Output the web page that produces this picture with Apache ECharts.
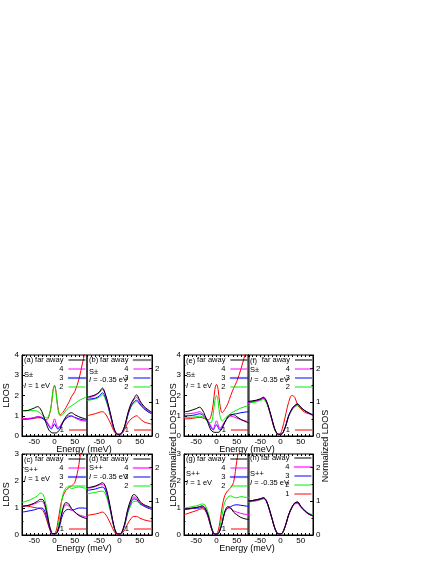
<!DOCTYPE html>
<html>
<head>
<meta charset="utf-8">
<script src="https://cdn.jsdelivr.net/npm/echarts@6/dist/echarts.min.js"></script>
<style>
  html, body { margin: 0; padding: 0; background: #fff; }
  #chart { width: 436px; height: 564px; }
</style>
</head>
<body>
<div id="chart"></div>
<script>
// energy grid (meV), non-uniform so the sharp features near 0 are kept
const energy = [-80, -70, -60, -50, -42, -35, -28, -20, -14, -8, -4, 0, 4, 8, 14, 20, 28, 35, 42, 50, 60, 70, 80]
const xTickLabels = [-50, 0, 50]
const siteNames = ['far away', '4', '3', '2', '1']
const siteColors = ['#000000', '#ff00ff', '#0000ff', '#00ee00', '#ff0000']

// (a) S+-, I = 1 eV
const aFar = [1.25, 1.25, 1.3, 1.38, 1.45, 1.35, 1.05, 0.6, 0.3, 0.18, 0.15, 0.15, 0.15, 0.2, 0.35, 0.65, 0.95, 1.1, 1.15, 1.05, 0.95, 0.88, 0.82]
const a4 = [0.85, 0.85, 0.88, 0.9, 0.95, 0.95, 0.9, 0.75, 0.55, 0.42, 0.62, 0.85, 0.62, 0.42, 0.5, 0.7, 0.9, 1.0, 1.0, 0.9, 0.8, 0.75, 0.72]
const a3 = [0.82, 0.83, 0.85, 0.9, 0.95, 0.92, 0.85, 0.7, 0.5, 0.35, 0.45, 0.6, 0.45, 0.35, 0.45, 0.65, 0.85, 0.95, 0.98, 0.92, 0.85, 0.8, 0.78]
const a2 = [1.25, 1.25, 1.25, 1.25, 1.22, 1.12, 1.0, 0.9, 1.0, 1.5, 2.2, 2.5, 2.1, 1.4, 1.0, 1.05, 1.25, 1.4, 1.5, 1.6, 1.75, 1.85, 1.95]
const a1 = [0.85, 0.85, 0.85, 0.87, 0.9, 0.9, 0.85, 0.8, 0.95, 1.5, 2.2, 2.5, 2.15, 1.45, 1.05, 1.15, 1.4, 1.65, 1.95, 2.2, 2.8, 3.7, 4.6]

// (b) S+-, I = -0.35 eV
const bFar = [1.15, 1.18, 1.22, 1.3, 1.42, 1.25, 0.95, 0.55, 0.25, 0.08, 0.05, 0.05, 0.07, 0.15, 0.35, 0.65, 0.95, 1.1, 1.22, 1.05, 0.88, 0.78, 0.7]
const b4 = [1.12, 1.15, 1.2, 1.28, 1.38, 1.22, 0.92, 0.52, 0.22, 0.07, 0.05, 0.05, 0.07, 0.14, 0.33, 0.62, 0.92, 1.06, 1.15, 1.0, 0.85, 0.75, 0.68]
const b3 = [1.08, 1.1, 1.12, 1.18, 1.28, 1.15, 0.88, 0.5, 0.22, 0.07, 0.05, 0.05, 0.07, 0.14, 0.32, 0.6, 0.88, 1.0, 1.06, 0.95, 0.82, 0.72, 0.66]
const b2 = [1.05, 1.07, 1.1, 1.15, 1.22, 1.1, 0.85, 0.48, 0.2, 0.07, 0.05, 0.05, 0.07, 0.13, 0.3, 0.58, 0.85, 0.96, 1.02, 0.93, 0.8, 0.72, 0.64]
const b1 = [0.6, 0.63, 0.66, 0.7, 0.72, 0.66, 0.52, 0.32, 0.15, 0.06, 0.04, 0.04, 0.05, 0.1, 0.22, 0.38, 0.5, 0.56, 0.6, 0.52, 0.42, 0.38, 0.35]

// (c) S++, I = 1 eV
const cFar = [1.05, 1.08, 1.12, 1.18, 1.25, 1.32, 1.3, 0.9, 0.45, 0.12, 0.05, 0.05, 0.06, 0.15, 0.5, 0.95, 1.2, 1.15, 0.98, 0.85, 0.72, 0.65, 0.6]
const c4 = [1.05, 1.08, 1.1, 1.15, 1.2, 1.25, 1.22, 0.85, 0.42, 0.1, 0.05, 0.05, 0.06, 0.15, 0.48, 0.9, 1.12, 1.08, 0.95, 0.85, 0.75, 0.7, 0.66]
const c3 = [0.85, 0.87, 0.9, 0.93, 0.97, 1.0, 0.98, 0.7, 0.35, 0.08, 0.04, 0.04, 0.05, 0.12, 0.4, 0.75, 0.92, 0.95, 0.92, 0.95, 1.0, 1.0, 0.98]
const c2 = [1.2, 1.25, 1.3, 1.38, 1.45, 1.55, 1.5, 1.05, 0.5, 0.12, 0.05, 0.05, 0.08, 0.25, 0.8, 1.45, 1.75, 1.78, 1.72, 1.75, 1.78, 1.75, 1.72]
const c1 = [1.1, 1.08, 1.05, 1.02, 1.0, 0.98, 0.9, 0.6, 0.3, 0.08, 0.03, 0.05, 0.15, 0.45, 1.0, 1.4, 1.65, 1.75, 1.82, 1.95, 2.6, 3.7, 4.5]

// (d) S++, I = -0.35 eV
const dFar = [1.4, 1.42, 1.45, 1.5, 1.55, 1.45, 1.15, 0.65, 0.28, 0.06, 0.03, 0.03, 0.05, 0.15, 0.4, 0.75, 1.05, 1.2, 1.15, 1.0, 0.9, 0.85, 0.8]
const d4 = [1.38, 1.4, 1.43, 1.48, 1.5, 1.4, 1.1, 0.62, 0.27, 0.06, 0.03, 0.03, 0.05, 0.14, 0.38, 0.72, 1.0, 1.13, 1.1, 0.97, 0.88, 0.82, 0.78]
const d3 = [1.32, 1.34, 1.36, 1.4, 1.42, 1.33, 1.05, 0.6, 0.26, 0.06, 0.03, 0.03, 0.05, 0.13, 0.36, 0.68, 0.95, 1.07, 1.05, 0.94, 0.86, 0.8, 0.76]
const d2 = [1.22, 1.24, 1.26, 1.29, 1.3, 1.22, 0.97, 0.56, 0.24, 0.05, 0.03, 0.03, 0.05, 0.12, 0.33, 0.63, 0.88, 1.0, 1.0, 0.92, 0.85, 0.8, 0.76]
const d1 = [0.58, 0.6, 0.62, 0.65, 0.68, 0.62, 0.48, 0.28, 0.12, 0.03, 0.02, 0.02, 0.03, 0.07, 0.18, 0.33, 0.48, 0.55, 0.55, 0.5, 0.45, 0.42, 0.4]

// (e) S+-, I = 1 eV, normalized
const eFar = [1.2, 1.22, 1.28, 1.35, 1.42, 1.3, 1.0, 0.6, 0.3, 0.2, 0.18, 0.18, 0.18, 0.22, 0.38, 0.65, 0.95, 1.05, 1.05, 0.95, 0.82, 0.72, 0.65]
const e4 = [1.1, 1.1, 1.12, 1.15, 1.2, 1.12, 0.95, 0.72, 0.5, 0.35, 0.55, 0.75, 0.55, 0.38, 0.5, 0.7, 0.88, 0.98, 0.95, 0.88, 0.8, 0.75, 0.7]
const e3 = [1.0, 1.0, 1.02, 1.05, 1.1, 1.05, 0.9, 0.68, 0.45, 0.3, 0.45, 0.55, 0.42, 0.3, 0.45, 0.68, 0.9, 1.02, 1.08, 1.1, 1.15, 1.18, 1.2]
const e2 = [0.92, 0.92, 0.93, 0.95, 0.98, 0.95, 0.85, 0.7, 0.65, 1.1, 1.75, 2.0, 1.7, 1.05, 0.75, 0.85, 1.0, 1.12, 1.2, 1.28, 1.38, 1.45, 1.5]
const e1 = [0.85, 0.85, 0.87, 0.9, 0.92, 0.9, 0.85, 0.8, 0.95, 1.6, 2.3, 2.55, 2.3, 1.6, 1.15, 1.3, 1.6, 2.0, 2.35, 2.7, 3.3, 4.0, 4.7]

// (f) S+-, I = -0.35 eV, normalized
const fFar = [1.02, 1.04, 1.06, 1.1, 1.15, 1.05, 0.8, 0.45, 0.2, 0.07, 0.05, 0.05, 0.07, 0.15, 0.35, 0.6, 0.8, 0.9, 0.95, 0.85, 0.75, 0.68, 0.62]
const f4 = [1.0, 1.02, 1.04, 1.08, 1.12, 1.02, 0.78, 0.44, 0.2, 0.07, 0.05, 0.05, 0.07, 0.15, 0.34, 0.58, 0.78, 0.88, 0.92, 0.84, 0.74, 0.67, 0.6]
const f3 = [1.0, 1.02, 1.05, 1.08, 1.13, 1.03, 0.79, 0.45, 0.2, 0.07, 0.05, 0.05, 0.07, 0.15, 0.35, 0.6, 0.8, 0.9, 0.94, 0.85, 0.75, 0.68, 0.62]
const f2 = [0.97, 0.99, 1.01, 1.05, 1.08, 0.99, 0.76, 0.43, 0.19, 0.06, 0.05, 0.05, 0.07, 0.14, 0.33, 0.57, 0.76, 0.86, 0.9, 0.83, 0.75, 0.68, 0.63]
const f1 = [1.0, 1.02, 1.05, 1.08, 1.12, 1.02, 0.78, 0.42, 0.18, 0.06, 0.05, 0.07, 0.2, 0.38, 0.7, 1.0, 1.2, 1.15, 0.92, 0.8, 0.7, 0.66, 0.62]

// (g) S++, I = 1 eV, normalized
const gFar = [0.95, 0.97, 1.0, 1.02, 1.05, 1.08, 1.0, 0.7, 0.35, 0.08, 0.03, 0.03, 0.05, 0.15, 0.45, 0.85, 1.05, 1.0, 0.85, 0.75, 0.65, 0.6, 0.57]
const g4 = [0.95, 0.97, 0.99, 1.01, 1.03, 1.05, 0.98, 0.68, 0.34, 0.08, 0.03, 0.03, 0.05, 0.15, 0.44, 0.83, 1.0, 0.98, 0.9, 0.85, 0.8, 0.77, 0.75]
const g3 = [0.95, 0.96, 0.98, 0.99, 1.0, 1.02, 0.95, 0.66, 0.33, 0.08, 0.03, 0.03, 0.05, 0.15, 0.44, 0.82, 1.0, 1.05, 1.1, 1.12, 1.1, 1.08, 1.05]
const g2 = [1.0, 1.02, 1.05, 1.08, 1.12, 1.15, 1.1, 0.8, 0.4, 0.1, 0.04, 0.05, 0.08, 0.25, 0.75, 1.2, 1.4, 1.45, 1.4, 1.38, 1.42, 1.4, 1.38]
const g1 = [0.75, 0.8, 0.85, 0.9, 0.95, 0.97, 0.92, 0.62, 0.3, 0.07, 0.03, 0.05, 0.15, 0.45, 1.05, 1.45, 1.65, 1.75, 1.95, 2.75, 3.6, 4.3, 4.8]

// (h) S++, I = -0.35 eV, normalized
const hFar = [1.0, 1.02, 1.04, 1.07, 1.1, 1.02, 0.78, 0.45, 0.2, 0.05, 0.03, 0.03, 0.05, 0.14, 0.35, 0.6, 0.82, 0.95, 0.98, 0.85, 0.72, 0.62, 0.57]
const h4 = [0.98, 1.0, 1.02, 1.05, 1.08, 1.0, 0.76, 0.44, 0.2, 0.05, 0.03, 0.03, 0.05, 0.14, 0.34, 0.58, 0.8, 0.92, 0.93, 0.82, 0.7, 0.61, 0.56]
const h3 = [1.0, 1.02, 1.04, 1.07, 1.1, 1.02, 0.78, 0.45, 0.2, 0.05, 0.03, 0.03, 0.05, 0.14, 0.35, 0.6, 0.82, 0.94, 0.96, 0.84, 0.71, 0.62, 0.57]
const h2 = [0.97, 0.99, 1.01, 1.04, 1.07, 0.99, 0.76, 0.44, 0.2, 0.05, 0.03, 0.03, 0.05, 0.14, 0.34, 0.59, 0.81, 0.93, 0.95, 0.85, 0.73, 0.64, 0.6]
const h1 = [1.0, 1.02, 1.04, 1.07, 1.1, 1.02, 0.78, 0.45, 0.2, 0.05, 0.03, 0.03, 0.05, 0.14, 0.35, 0.6, 0.82, 0.95, 0.97, 0.84, 0.71, 0.62, 0.57]

const FONT = 'Liberation Sans, Arial, sans-serif'
const FS = 7.5
const W = 65
const H = 81

// panel layout: position, y range, which side the y axis sits on, caption lines
const panels = [
  { id: 'a', left: 22, top: 355, ymax: 4, side: 'left', yName: 'LDOS', sym: 'S±', inter: '1 eV', dy: [5, 20, 31], thick: '3', split1: true, series: [aFar, a4, a3, a2, a1] },
  { id: 'b', left: 87, top: 355, ymax: 2.4, side: 'right', yName: 'LDOS', sym: 'S±', inter: '-0.35 eV', dy: [5, 17, 25], thick: 'far away', split1: true, series: [bFar, b4, b3, b2, b1] },
  { id: 'c', left: 22, top: 454, ymax: 3, side: 'left', yName: 'LDOS', sym: 'S++', inter: '1 eV', dy: [6, 16, 25], thick: '3', split1: true, series: [cFar, c4, c3, c2, c1] },
  { id: 'd', left: 87, top: 454, ymax: 2.4, side: 'right', yName: 'LDOS', sym: 'S++', inter: '-0.35 eV', dy: [5, 14, 23], thick: '4', split1: true, series: [dFar, d4, d3, d2, d1] },
  { id: 'e', left: 184, top: 355, ymax: 4, side: 'left', yName: '', sym: 'S±', inter: '1 eV', dy: [6, 20, 31], thick: '3', split1: true, series: [eFar, e4, e3, e2, e1] },
  { id: 'f', left: 248, top: 355, ymax: 2.4, side: 'right', yName: '', sym: 'S±', inter: '-0.35 eV', dy: [6, 15, 25], thick: '', split1: true, series: [fFar, f4, f3, f2, f1] },
  { id: 'g', left: 184, top: 454, ymax: 3, side: 'left', yName: '', sym: 'S++', inter: '1 eV', dy: [5, 20, 29], thick: '3', split1: true, series: [gFar, g4, g3, g2, g1] },
  { id: 'h', left: 248, top: 454, ymax: 2.4, side: 'right', yName: '', sym: 'S++', inter: '-0.35 eV', dy: [4, 20, 29], thick: '4', split1: false, series: [hFar, h4, h3, h2, h1] }
]

const chart = echarts.init(document.getElementById('chart'))

const grid = []
const xAxis = []
const yAxis = []
const series = []
const legend = []
const graphic = []

function text(x, y, str, extra) {
  graphic.push({
    type: 'text',
    x: x,
    y: y,
    silent: true,
    style: Object.assign({
      text: str,
      fill: '#000',
      fontSize: FS,
      fontFamily: FONT,
      verticalAlign: 'middle',
      align: 'left',
      rich: { it: { fontStyle: 'italic', fontSize: FS, fontFamily: FONT } }
    }, extra || {})
  })
}

function legendItem(p, name) {
  const color = siteColors[siteNames.indexOf(name)]
  const item = { name: p.id + ':' + name, icon: 'rect', itemStyle: { color: color, borderWidth: 0 } }
  if (name === p.thick) {
    item.itemStyle = name === 'far away'
      ? { color: '#888', borderColor: '#888', borderWidth: 1.2 }
      : { color: color, borderColor: color, borderWidth: 1.2, opacity: 0.45 }
  }
  return item
}

panels.forEach((p, i) => {
  grid.push({
    left: p.left, top: p.top, width: W, height: H,
    show: true, borderColor: '#000', borderWidth: 1, backgroundColor: 'transparent'
  })

  xAxis.push({
    type: 'value', gridIndex: i, min: -80, max: 80, interval: 10,
    axisLine: { onZero: false, lineStyle: { color: '#000', width: 1 } },
    axisTick: { inside: true, length: 2, lineStyle: { color: '#000' } },
    axisLabel: {
      color: '#000', fontSize: 8, fontFamily: FONT, margin: 2,
      formatter: v => (xTickLabels.includes(v) ? String(v) : '')
    },
    splitLine: { show: false }
  })
  xAxis.push({
    type: 'value', gridIndex: i, min: -80, max: 80, interval: 10, position: 'top',
    axisLine: { show: false, onZero: false },
    axisTick: { inside: true, length: 2, lineStyle: { color: '#000' } },
    axisLabel: { show: false },
    splitLine: { show: false }
  })

  yAxis.push({
    type: 'value', gridIndex: i, min: 0, max: p.ymax, interval: 1, position: p.side,
    axisLine: { show: true, onZero: false, lineStyle: { color: '#000', width: 1 } },
    axisTick: { inside: true, length: 3, lineStyle: { color: '#000' } },
    minorTick: { show: true, splitNumber: 2, length: 1.5, lineStyle: { color: '#000' } },
    axisLabel: {
      color: '#000', fontSize: 8, fontFamily: FONT, margin: 3,
      formatter: v => (Number.isInteger(v) ? String(v) : '')
    },
    splitLine: { show: false },
    name: p.yName,
    nameLocation: 'middle',
    nameRotate: 90,
    nameGap: p.side === 'left' ? 9 : 17,
    nameTextStyle: { color: '#000', fontSize: 9, fontFamily: FONT }
  })

  // draw far-away last so it sits on top, like the original
  const order = [4, 3, 2, 1, 0]
  order.forEach(k => {
    series.push({
      name: p.id + ':' + siteNames[k],
      type: 'line',
      xAxisIndex: i * 2,
      yAxisIndex: i,
      data: energy.map((e, j) => [e, p.series[k][j]]),
      symbol: 'none',
      smooth: 0.35,
      clip: true,
      lineStyle: { color: siteColors[k], width: 1 },
      itemStyle: { color: siteColors[k] },
      emphasis: { disabled: true },
      silent: true
    })
  })

  const common = {
    orient: 'vertical',
    align: 'right',
    right: 436 - (p.left + W) + 1,
    itemWidth: 17,
    itemHeight: 1,
    itemGap: 1,
    padding: 0,
    selectedMode: false,
    formatter: name => name.split(':')[1],
    textStyle: { color: '#000', fontSize: FS, fontFamily: FONT, lineHeight: 8 }
  }
  if (p.split1) {
    legend.push(Object.assign({}, common, {
      top: p.top + 1,
      data: siteNames.slice(0, 4).map(n => legendItem(p, n))
    }))
    legend.push(Object.assign({}, common, {
      top: p.top + H - 10,
      data: [legendItem(p, '1')]
    }))
  } else {
    legend.push(Object.assign({}, common, {
      top: p.top,
      data: siteNames.map(n => legendItem(p, n))
    }))
  }

  const tx = p.left + 2
  text(tx, p.top + p.dy[0], '(' + p.id + ')')
  text(tx, p.top + p.dy[1], p.sym)
  text(tx, p.top + p.dy[2], '{it|I} = ' + p.inter)
})

// shared axis titles
const energyLabels = [[84, 450], [247, 450], [84, 549], [247, 549]]
energyLabels.forEach(([x, y]) => text(x, y, 'Energy (meV)', { align: 'center', fontSize: 9 }))

graphic.push({
  type: 'text', x: 174, y: 446, rotation: Math.PI / 2, silent: true,
  style: { text: 'Normalized LDOS', fill: '#000', fontSize: 9, fontFamily: FONT, align: 'center', verticalAlign: 'middle' }
})
graphic.push({
  type: 'text', x: 326, y: 446, rotation: Math.PI / 2, silent: true,
  style: { text: 'Normalized LDOS', fill: '#000', fontSize: 9, fontFamily: FONT, align: 'center', verticalAlign: 'middle' }
})

chart.setOption({
  animation: false,
  backgroundColor: '#fff',
  grid: grid,
  xAxis: xAxis,
  yAxis: yAxis,
  legend: legend,
  series: series,
  graphic: graphic
})
</script>
</body>
</html>
